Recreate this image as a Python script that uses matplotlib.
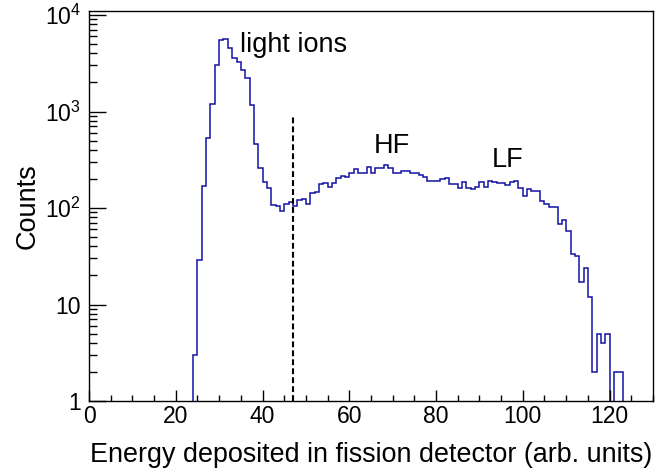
import numpy as np
import matplotlib
matplotlib.use("Agg")
import matplotlib.pyplot as plt
from matplotlib.ticker import MultipleLocator, FixedLocator, LogLocator, NullFormatter

plt.rcParams['font.family'] = ['Liberation Sans', 'DejaVu Sans']
plt.rcParams['mathtext.fontset'] = 'custom'
plt.rcParams['mathtext.rm'] = 'Liberation Sans'
plt.rcParams['mathtext.it'] = 'Liberation Sans:italic'

# histogram: counts per 1-unit bin, first bin starts at 24
first_bin = 24
counts = [3, 29, 170, 530, 1200, 3050, 5500, 5600, 4500, 3600,          # 24-33
          3250, 2700, 2200, 1180, 460, 260, 185, 160, 107, 104,          # 34-43
          93, 109, 115, 104, 120, 125, 111, 144, 147, 177,               # 44-53
          180, 164, 180, 203, 216, 208, 230, 252, 230, 230,              # 54-63
          264, 230, 258, 258, 277, 258, 230, 230, 240, 240,              # 64-73
          230, 230, 222, 210, 192, 190, 192, 202, 203, 177,              # 74-83
          177, 160, 185, 160, 156, 164, 185, 167, 190, 185,              # 84-93
          180, 180, 172, 185, 192, 160, 134, 157, 150, 150,              # 94-103
          118, 111, 103, 102, 68, 76, 58, 33, 32, 17,                    # 104-113
          24, 12, 2, 5, 4, 5, 0, 2, 2]                                   # 114-122
edges = np.arange(first_bin, first_bin + len(counts) + 1)

cut_position = 47
cut_top = 900

yticks = [1, 10, 100, 1000, 10000]
ytick_labels = ["1", "10", r"$10^{2}$", r"$10^{3}$", r"$10^{4}$"]

fig = plt.figure(figsize=(6.58, 4.69), dpi=100)
ax = fig.add_axes([0.1353, 0.145, 0.857, 0.8315])

ax.stairs(counts, edges, baseline=0, color="#1212a6", linewidth=1.1)
ax.plot([cut_position, cut_position], [1, cut_top], color="black",
        linewidth=1.5, linestyle=(0, (2.8, 1.5)))

ax.set_yscale("log")
ax.set_xlim(0, 130)
ax.set_ylim(1, 1.1e4)

ax.xaxis.set_major_locator(MultipleLocator(20))
ax.xaxis.set_minor_locator(MultipleLocator(5))
ax.yaxis.set_major_locator(FixedLocator(yticks))
ax.set_yticklabels(ytick_labels)
ax.yaxis.set_minor_locator(LogLocator(base=10, subs=np.arange(2, 10)))
ax.yaxis.set_minor_formatter(NullFormatter())

ax.tick_params(which="both", direction="in", top=False, right=False, width=1)
ax.tick_params(axis="x", which="major", length=8, labelsize=16.5, pad=3)
ax.tick_params(axis="x", which="minor", length=4)
ax.tick_params(axis="y", which="major", length=12, labelsize=16.5, pad=6)
ax.tick_params(axis="y", which="minor", length=5.5)
for s in ax.spines.values():
    s.set_linewidth(1)

ax.set_xlabel("Energy deposited in fission detector (arb. units)", fontsize=19.4,
              labelpad=10)
ax.set_ylabel("Counts", fontsize=19.5, labelpad=3)

ax.text(34.8, 4900, "light ions", fontsize=19.5, va="center", ha="left")
ax.text(69.8, 440, "HF", fontsize=19.5, va="center", ha="center")
ax.text(96.5, 315, "LF", fontsize=19.5, va="center", ha="center")

fig.savefig("out.png", dpi=100)
